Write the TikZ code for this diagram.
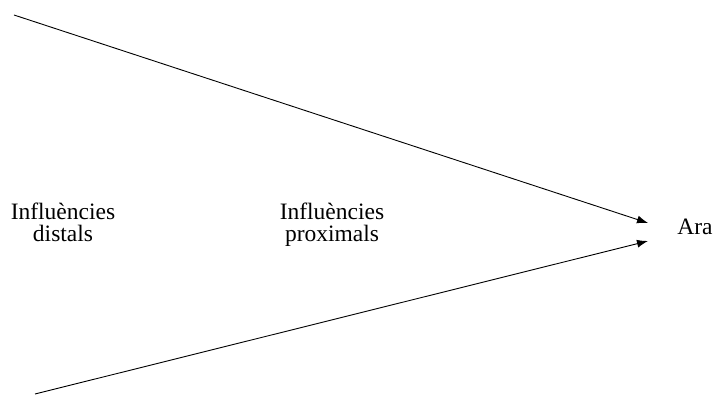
\documentclass[tikz,border=0pt]{standalone}
\usepackage{fontspec}
\setmainfont{Liberation Serif}
\usetikzlibrary{arrows.meta}
\begin{document}
\begin{tikzpicture}[x=1pt,y=-1pt,
  lbl/.style={align=center,font=\fontsize{23.5}{22}\selectfont,inner sep=0pt},
  conn/.style={line width=0.9pt,-{Latex[length=11pt,width=8pt]}}]
\useasboundingbox (0,0) rectangle (717,395);
\coordinate (ts) at (14,15);
\coordinate (bs) at (35,394);
\coordinate (tt) at (648,223);
\coordinate (bt) at (648,241);
\node[lbl,anchor=base] (dist) at (63,242) {Influències\\distals};
\node[lbl,anchor=base] (prox) at (332,242) {Influències\\proximals};
\node[lbl,anchor=base] (ara) at (695,235) {Ara};
\draw[conn] (ts) -- (tt);
\draw[conn] (bs) -- (bt);
\end{tikzpicture}
\end{document}
